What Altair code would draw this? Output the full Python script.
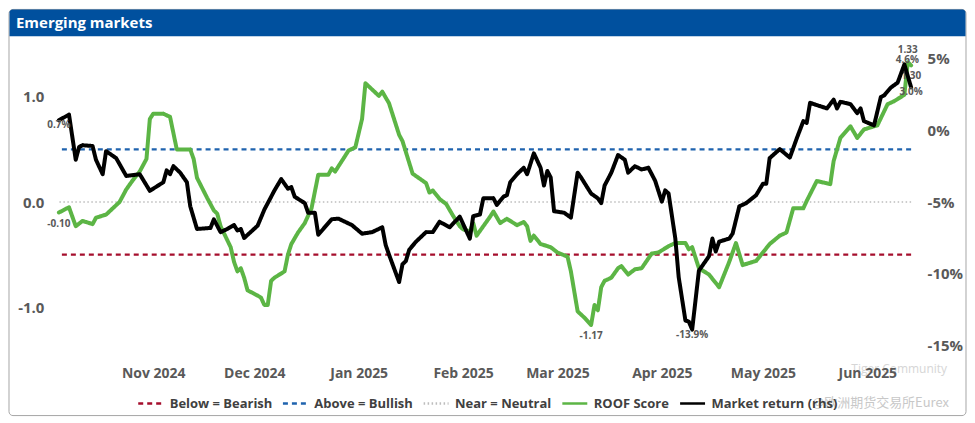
import altair as alt
import pandas as pd

# ---------------- data ----------------
black_dates = [
    "2024-10-04", "2024-10-07", "2024-10-09", "2024-10-10", "2024-10-11", "2024-10-14",
    "2024-10-15", "2024-10-17", "2024-10-18", "2024-10-21", "2024-10-24", "2024-10-28",
    "2024-10-31", "2024-11-04", "2024-11-05", "2024-11-06", "2024-11-07", "2024-11-09",
    "2024-11-11", "2024-11-12", "2024-11-14", "2024-11-18", "2024-11-19", "2024-11-21",
    "2024-11-23", "2024-11-25", "2024-11-26", "2024-11-27", "2024-11-28", "2024-12-02",
    "2024-12-04", "2024-12-07", "2024-12-09", "2024-12-11", "2024-12-12", "2024-12-13",
    "2024-12-16", "2024-12-17", "2024-12-19", "2024-12-20", "2024-12-24", "2024-12-26",
    "2024-12-30", "2025-01-02", "2025-01-05", "2025-01-08", "2025-01-09", "2025-01-10",
    "2025-01-13", "2025-01-14", "2025-01-15", "2025-01-16", "2025-01-18", "2025-01-21",
    "2025-01-23", "2025-01-25", "2025-01-28", "2025-01-31", "2025-02-03", "2025-02-04",
    "2025-02-06", "2025-02-07", "2025-02-10", "2025-02-11", "2025-02-13", "2025-02-14",
    "2025-02-15", "2025-02-17", "2025-02-19", "2025-02-20", "2025-02-22", "2025-02-24",
    "2025-02-25", "2025-02-26", "2025-02-27", "2025-02-28", "2025-03-03", "2025-03-05",
    "2025-03-07", "2025-03-08", "2025-03-11", "2025-03-13", "2025-03-14", "2025-03-15",
    "2025-03-17", "2025-03-19", "2025-03-21", "2025-03-22", "2025-03-24", "2025-03-26",
    "2025-03-28", "2025-03-30", "2025-04-01", "2025-04-02", "2025-04-03", "2025-04-05",
    "2025-04-06", "2025-04-08", "2025-04-09", "2025-04-10", "2025-04-12", "2025-04-15",
    "2025-04-16", "2025-04-17", "2025-04-18", "2025-04-21", "2025-04-22", "2025-04-24",
    "2025-04-26", "2025-04-29", "2025-05-01", "2025-05-02", "2025-05-03", "2025-05-06",
    "2025-05-09", "2025-05-11", "2025-05-13", "2025-05-14", "2025-05-15", "2025-05-17",
    "2025-05-20", "2025-05-22", "2025-05-23", "2025-05-24", "2025-05-27", "2025-05-29",
    "2025-05-30", "2025-05-31", "2025-06-03", "2025-06-05", "2025-06-06", "2025-06-08",
    "2025-06-10", "2025-06-12", "2025-06-14",
]
black_vals = [
    0.7, 1.1, -2.05, -1.16, -1.04, -1.09,
    -2.05, -3.06, -1.45, -1.94, -3.18, -3.06,
    -4.22, -3.62, -2.79, -3.06, -2.50, -2.95,
    -3.62, -5.30, -6.88, -6.81, -6.21, -7.10,
    -6.88, -6.61, -6.99, -6.88, -7.51, -6.65,
    -5.53, -4.19, -3.40, -4.07, -3.96, -4.63,
    -5.08, -5.75, -5.75, -7.28, -6.20, -6.16,
    -6.61, -7.21, -7.10, -6.76, -7.99, -8.67,
    -10.58, -9.34, -9.12, -8.33, -7.77, -7.10,
    -7.10, -6.38, -6.76, -6.02, -7.55, -5.98,
    -5.87, -4.74, -4.74, -5.20, -4.63, -4.52,
    -3.62, -3.06, -2.61, -3.06, -1.60, -2.61,
    -3.85, -2.84, -3.28, -5.64, -5.75, -6.09,
    -2.95, -3.28, -4.41, -4.74, -5.08, -3.85,
    -2.95, -1.72, -2.05, -2.95, -2.50, -2.73,
    -2.61, -3.51, -4.97, -4.19, -4.41, -7.55,
    -10.24, -13.27, -13.34, -13.9, -9.79, -8.78,
    -7.55, -8.45, -7.77, -7.55, -7.21, -5.30,
    -5.08, -4.52, -3.73, -3.73, -1.94, -1.31,
    -1.90, -0.59, 0.64, 0.52, 1.92, 1.76,
    1.53, 2.14, 1.53, 1.99, 1.83, 1.20,
    1.53, 0.64, 0.35, 2.32, 2.44, 2.99,
    3.33, 4.6, 3.0,
]

green_dates = [
    "2024-10-04", "2024-10-07", "2024-10-09", "2024-10-11", "2024-10-14", "2024-10-15",
    "2024-10-18", "2024-10-22", "2024-10-24", "2024-10-26", "2024-10-28", "2024-10-30",
    "2024-10-31", "2024-11-01", "2024-11-04", "2024-11-06", "2024-11-08", "2024-11-12",
    "2024-11-13", "2024-11-14", "2024-11-17", "2024-11-19", "2024-11-20", "2024-11-21",
    "2024-11-24", "2024-11-25", "2024-11-26", "2024-11-27", "2024-11-28", "2024-11-29",
    "2024-12-02", "2024-12-03", "2024-12-04", "2024-12-05", "2024-12-06", "2024-12-07",
    "2024-12-10", "2024-12-11", "2024-12-12", "2024-12-14", "2024-12-16", "2024-12-18",
    "2024-12-20", "2024-12-23", "2024-12-24", "2024-12-25", "2024-12-27", "2024-12-29",
    "2024-12-31", "2025-01-02", "2025-01-03", "2025-01-07", "2025-01-08", "2025-01-10",
    "2025-01-13", "2025-01-14", "2025-01-17", "2025-01-21", "2025-01-22", "2025-01-23",
    "2025-01-25", "2025-01-27", "2025-01-29", "2025-01-31", "2025-02-01", "2025-02-03",
    "2025-02-04", "2025-02-05", "2025-02-07", "2025-02-09", "2025-02-10", "2025-02-12",
    "2025-02-14", "2025-02-17", "2025-02-19", "2025-02-20", "2025-02-21", "2025-02-22",
    "2025-02-24", "2025-02-27", "2025-03-01", "2025-03-04", "2025-03-05", "2025-03-07",
    "2025-03-09", "2025-03-11", "2025-03-12", "2025-03-13", "2025-03-14", "2025-03-15",
    "2025-03-17", "2025-03-19", "2025-03-20", "2025-03-22", "2025-03-24", "2025-03-26",
    "2025-03-29", "2025-03-31", "2025-04-03", "2025-04-05", "2025-04-08", "2025-04-09",
    "2025-04-10", "2025-04-12", "2025-04-15", "2025-04-18", "2025-04-21", "2025-04-23",
    "2025-04-25", "2025-04-29", "2025-05-03", "2025-05-06", "2025-05-08", "2025-05-10",
    "2025-05-13", "2025-05-14", "2025-05-17", "2025-05-21", "2025-05-22", "2025-05-24",
    "2025-05-27", "2025-05-29", "2025-05-31", "2025-06-04", "2025-06-07", "2025-06-09",
    "2025-06-12", "2025-06-13", "2025-06-14",
]
green_vals = [
    -0.10, -0.05, -0.23, -0.18, -0.21, -0.15,
    -0.12, 0.00, 0.12, 0.21, 0.29, 0.41,
    0.79, 0.84, 0.84, 0.81, 0.50, 0.50,
    0.41, 0.23, 0.04, -0.08, -0.11, -0.23,
    -0.43, -0.57, -0.66, -0.63, -0.72, -0.84,
    -0.89, -0.91, -0.98, -0.98, -0.75, -0.72,
    -0.66, -0.50, -0.40, -0.29, -0.20, -0.06,
    0.26, 0.26, 0.32, 0.29, 0.39, 0.49,
    0.52, 0.79, 1.13, 1.01, 1.05, 0.94,
    0.64, 0.58, 0.27, 0.18, 0.09, 0.11,
    0.03, -0.02, -0.13, -0.23, -0.26, -0.28,
    -0.20, -0.32, -0.23, -0.14, -0.09, -0.20,
    -0.16, -0.22, -0.19, -0.23, -0.37, -0.32,
    -0.40, -0.43, -0.48, -0.52, -0.66, -1.04,
    -1.10, -1.17, -0.98, -1.03, -0.81, -0.75,
    -0.72, -0.63, -0.61, -0.69, -0.64, -0.63,
    -0.49, -0.48, -0.42, -0.39, -0.39, -0.45,
    -0.43, -0.63, -0.69, -0.81, -0.57, -0.39,
    -0.60, -0.56, -0.40, -0.32, -0.29, -0.06,
    -0.06, 0.01, 0.20, 0.17, 0.39, 0.61,
    0.72, 0.61, 0.69, 0.73, 0.93, 0.96,
    1.02, 1.33, 1.30,
]

series_names = ["Below = Bearish", "Above = Bullish", "Near = Neutral",
                "ROOF Score", "Market return (rhs)"]
series_colors = ["#A50E2D", "#1F63AE", "#BDBDBD", "#5CB545", "#000000"]
series_dashes = [[5, 4], [5, 4], [1.5, 2.5], [1, 0], [1, 0]]
threshold_vals = [-0.5, 0.5, 0.0]
left_ticks = [-1, 0, 1]
right_ticks = [-15, -10, -5, 0, 5]
left_domain = [-1.5, 1.5]
right_domain = [-16, 6]
title_text = "Emerging markets"
watermark_1 = "Tiger Community"
watermark_2 = "@欧洲期货交易所Eurex"

# ---------------- layout / style ----------------
W, H = 854, 316
FONT = "Open Sans"
GRAY = "#595959"

df_g = pd.DataFrame({"date": green_dates, "val": green_vals, "series": series_names[3]})
df_b = pd.DataFrame({"date": black_dates, "val": black_vals, "series": series_names[4]})
df_th = pd.DataFrame({"val": threshold_vals, "series": series_names[:3]})


def marks_table(df, fmt):
    idx = {
        "first": (0, "below"),
        "last": (len(df) - 1, "below"),
        "min": (int(df["val"].idxmin()), "below"),
        "max": (int(df["val"].idxmax()), "above"),
    }
    rows = []
    for _, (i, pos) in idx.items():
        rows.append({"date": df.loc[i, "date"], "val": df.loc[i, "val"],
                     "label": fmt(df.loc[i, "val"]), "pos": pos})
    return pd.DataFrame(rows)


lab_g = marks_table(df_g, lambda v: f"{v:.2f}")
lab_b = marks_table(df_b, lambda v: f"{v:.1f}%")


def dt(s):
    y, m, d = (int(p) for p in s.split("-"))
    return alt.DateTime(year=y, month=m, date=d, utc=True)


legend = alt.Legend(
    title=None, orient="none", legendX=78, legendY=346, direction="horizontal",
    symbolType="stroke", symbolSize=625, symbolStrokeWidth=2.5,
    labelFont=FONT, labelFontSize=13, labelFontWeight="bold", labelColor="#404040",
    labelOffset=5, columnPadding=5, gridAlign="none", padding=0, labelLimit=300,
    zindex=2,
)
color = alt.Color("series:N", scale=alt.Scale(domain=series_names, range=series_colors), legend=legend)
dash = alt.StrokeDash("series:N", scale=alt.Scale(domain=series_names, range=series_dashes), legend=legend)

x_enc = alt.X(
    "date:T",
    scale=alt.Scale(type="utc", domain=[dt(green_dates[0]), dt(green_dates[-1])], nice=False),
    axis=alt.Axis(title=None, format="%b %Y", tickCount={"interval": "month", "step": 1},
                  grid=False, domain=False, ticks=False, labelFont=FONT, labelFontSize=14,
                  labelFontWeight="bold", labelColor=GRAY, labelPadding=7,
                  labelOverlap=False, labelFlush=False, zindex=2),
)
y_left = alt.Y(
    "val:Q", scale=alt.Scale(domain=left_domain, nice=False, zero=False),
    axis=alt.Axis(values=left_ticks, labelExpr="datum.value + '.0'", title=None, grid=False,
                  domain=False, ticks=False, orient="left", labelFont=FONT, labelFontSize=15,
                  labelFontWeight="bold", labelColor=GRAY, labelPadding=15, zindex=2),
)
y_right = alt.Y(
    "val:Q", scale=alt.Scale(domain=right_domain, nice=False, zero=False),
    axis=alt.Axis(values=right_ticks, labelExpr="datum.value + '%'", title=None, grid=False,
                  domain=False, ticks=False, orient="right", labelFont=FONT, labelFontSize=15,
                  labelFontWeight="bold", labelColor=GRAY, labelPadding=16, zindex=2),
)

one = alt.Data(values=[{}])
box = alt.Chart(one).mark_rect(fill="white", stroke="#A6A6A6", strokeWidth=1, cornerRadius=4).encode(
    x=alt.value(-50), x2=alt.value(W + 55), y=alt.value(-35), y2=alt.value(H + 56))
bar = alt.Chart(one).mark_rect(fill="#00509E", cornerRadiusTopLeft=3, cornerRadiusTopRight=3).encode(
    x=alt.value(-49.5), x2=alt.value(W + 54.5), y=alt.value(-35), y2=alt.value(-8))
title = alt.Chart(one).mark_text(text=title_text, align="left", baseline="middle", color="white",
                                 font=FONT, fontSize=15, fontWeight="bold").encode(
    x=alt.value(-43), y=alt.value(-21.5))

rules_dashed = alt.Chart(df_th.iloc[:2]).mark_rule(strokeWidth=2.2).encode(y=y_left, color=color, strokeDash=dash)
rule_neutral = alt.Chart(df_th.iloc[2:]).mark_rule(strokeWidth=1.6).encode(y=y_left, color=color, strokeDash=dash)
green_line = alt.Chart(df_g).mark_line(strokeWidth=4, strokeJoin="round", strokeCap="round").encode(
    x=x_enc, y=y_left, color=color, strokeDash=dash)
txt = dict(font=FONT, fontSize=10, fontWeight="bold", color=GRAY)
g_below = alt.Chart(lab_g[lab_g.pos == "below"]).mark_text(dy=11, **txt).encode(x=x_enc, y=y_left, text="label:N")
g_above = alt.Chart(lab_g[lab_g.pos == "above"]).mark_text(dy=-12, **txt).encode(x=x_enc, y=y_left, text="label:N")
left = alt.layer(rules_dashed, rule_neutral, green_line, g_below, g_above)

black_line = alt.Chart(df_b).mark_line(strokeWidth=4, strokeJoin="round", strokeCap="round").encode(
    x=x_enc, y=y_right, color=color, strokeDash=dash)
b_below = alt.Chart(lab_b[lab_b.pos == "below"]).mark_text(dy=5, **txt).encode(x=x_enc, y=y_right, text="label:N")
b_above = alt.Chart(lab_b[lab_b.pos == "above"]).mark_text(dy=-4, dx=3, **txt).encode(x=x_enc, y=y_right, text="label:N")
right = alt.layer(black_line, b_below, b_above)

wm1 = alt.Chart(one).mark_text(text=watermark_1, align="right", baseline="middle", color="#D6D6D6",
                               font=FONT, fontSize=12).encode(x=alt.value(W + 36), y=alt.value(H + 9))
wm2 = alt.Chart(one).mark_text(text=watermark_2, align="right", baseline="middle", color="#C8C8C8",
                               font="Noto Sans CJK SC", fontSize=13).encode(x=alt.value(W + 38), y=alt.value(H + 43))

chart = alt.layer(box, bar, title, left, right, wm1, wm2).resolve_scale(y="independent").properties(
    width=W, height=H, padding=0, background="white"
).configure_view(stroke=None)

chart.save("out.html", embed_options={"renderer": "svg", "actions": False})
